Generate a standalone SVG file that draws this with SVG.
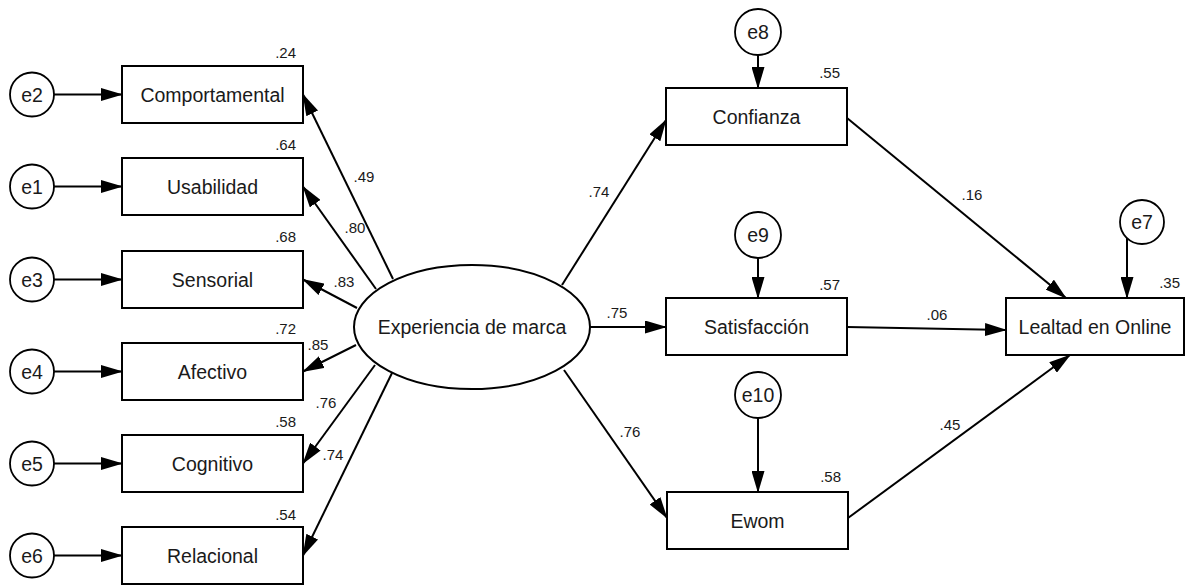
<svg xmlns="http://www.w3.org/2000/svg" width="1186" height="585" viewBox="0 0 1186 585">
<defs>
<marker id="arr" viewBox="0 0 22 13" refX="21" refY="6.5" markerWidth="22" markerHeight="13" orient="auto" markerUnits="userSpaceOnUse">
<path d="M0,0 L22,6.5 L0,13 z" fill="#000"/>
</marker>
<style>
.box{fill:#fff;stroke:#000;stroke-width:2}
.err{fill:#fff;stroke:#000;stroke-width:1.8}
.lat{fill:#fff;stroke:#000;stroke-width:2}
.lbl{font-family:"Liberation Sans",Arial,sans-serif;font-size:19.5px;fill:#1a1a1a;text-anchor:middle}
.num{font-family:"Liberation Sans",Arial,sans-serif;font-size:15px;fill:#1a1a1a;text-anchor:middle}
.r2{font-family:"Liberation Sans",Arial,sans-serif;font-size:15px;fill:#1a1a1a;text-anchor:end}
.con line{stroke:#000;stroke-width:2;marker-end:url(#arr)}
</style>
</defs>
<rect width="1186" height="585" fill="#fff"/>

<g id="connectors" class="con">
<line x1="54" y1="94.5" x2="122" y2="94.5"/>
<line x1="54" y1="186.5" x2="122" y2="186.5"/>
<line x1="54" y1="279.5" x2="122" y2="279.5"/>
<line x1="54" y1="371.5" x2="122" y2="371.5"/>
<line x1="54" y1="463.5" x2="122" y2="463.5"/>
<line x1="54" y1="555.5" x2="122" y2="555.5"/>
<line x1="393" y1="279" x2="303" y2="94.5"/>
<line x1="376" y1="289" x2="303" y2="186.5"/>
<line x1="357" y1="308" x2="303" y2="279.5"/>
<line x1="356" y1="345" x2="303" y2="371.5"/>
<line x1="375" y1="365" x2="303" y2="463.5"/>
<line x1="392" y1="373" x2="303" y2="555.5"/>
<line x1="562" y1="285" x2="666" y2="120"/>
<line x1="590" y1="327" x2="666" y2="327"/>
<line x1="564" y1="370" x2="667" y2="518"/>
<line x1="847" y1="118" x2="1066" y2="298"/>
<line x1="847" y1="327" x2="1006" y2="330"/>
<line x1="848" y1="518" x2="1070" y2="355"/>
<line x1="758" y1="55" x2="758" y2="88"/>
<line x1="758" y1="258" x2="758" y2="298"/>
<line x1="758" y1="418" x2="758" y2="492"/>
<line x1="1127" y1="238" x2="1127" y2="298"/>
</g>

<g id="latent">
<ellipse class="lat" cx="472" cy="327" rx="118" ry="62"/>
<text class="lbl" x="472" y="334">Experiencia de marca</text>
</g>

<g id="comportamental">
<rect class="box" x="122" y="66" width="181" height="57"/>
<text class="lbl" x="212.5" y="101.5">Comportamental</text>
<text class="r2" x="296" y="58">.24</text>
</g>
<g id="usabilidad">
<rect class="box" x="122" y="158" width="181" height="57"/>
<text class="lbl" x="212.5" y="193.5">Usabilidad</text>
<text class="r2" x="296" y="150">.64</text>
</g>
<g id="sensorial">
<rect class="box" x="122" y="251" width="181" height="57"/>
<text class="lbl" x="212.5" y="286.5">Sensorial</text>
<text class="r2" x="296" y="242">.68</text>
</g>
<g id="afectivo">
<rect class="box" x="122" y="343" width="181" height="57"/>
<text class="lbl" x="212.5" y="378.5">Afectivo</text>
<text class="r2" x="296" y="334">.72</text>
</g>
<g id="cognitivo">
<rect class="box" x="122" y="435" width="181" height="57"/>
<text class="lbl" x="212.5" y="470.5">Cognitivo</text>
<text class="r2" x="296" y="427">.58</text>
</g>
<g id="relacional">
<rect class="box" x="122" y="527" width="181" height="57"/>
<text class="lbl" x="212.5" y="562.5">Relacional</text>
<text class="r2" x="296" y="520">.54</text>
</g>

<g id="e2"><circle class="err" cx="32" cy="94.5" r="22"/><text class="lbl" x="32" y="101.5">e2</text></g>
<g id="e1"><circle class="err" cx="32" cy="186.5" r="22"/><text class="lbl" x="32" y="193.5">e1</text></g>
<g id="e3"><circle class="err" cx="32" cy="279.5" r="22"/><text class="lbl" x="32" y="286.5">e3</text></g>
<g id="e4"><circle class="err" cx="32" cy="371.5" r="22"/><text class="lbl" x="32" y="378.5">e4</text></g>
<g id="e5"><circle class="err" cx="32" cy="463.5" r="22"/><text class="lbl" x="32" y="470.5">e5</text></g>
<g id="e6"><circle class="err" cx="32" cy="555.5" r="22"/><text class="lbl" x="32" y="562.5">e6</text></g>

<g id="confianza">
<rect class="box" x="666" y="88" width="181" height="57"/>
<text class="lbl" x="756.5" y="123.5">Confianza</text>
<text class="r2" x="840" y="78">.55</text>
</g>
<g id="satisfaccion">
<rect class="box" x="666" y="298" width="181" height="57"/>
<text class="lbl" x="756.5" y="333.5">Satisfacción</text>
<text class="r2" x="840" y="290">.57</text>
</g>
<g id="ewom">
<rect class="box" x="667" y="492" width="181" height="57"/>
<text class="lbl" x="757.5" y="527.5">Ewom</text>
<text class="r2" x="841" y="482">.58</text>
</g>
<g id="lealtad">
<rect class="box" x="1006" y="298" width="178" height="57"/>
<text class="lbl" x="1095" y="333.5">Lealtad en Online</text>
<text class="r2" x="1180" y="288">.35</text>
</g>

<g id="e8"><circle class="err" cx="758" cy="32" r="23"/><text class="lbl" x="758" y="39">e8</text></g>
<g id="e9"><circle class="err" cx="758" cy="235" r="23"/><text class="lbl" x="758" y="242">e9</text></g>
<g id="e10"><circle class="err" cx="758" cy="395" r="23"/><text class="lbl" x="758" y="402">e10</text></g>
<g id="e7"><circle class="err" cx="1142" cy="222" r="22"/><text class="lbl" x="1142" y="229">e7</text></g>

<g id="path-labels">
<text class="num" x="364" y="182">.49</text>
<text class="num" x="355" y="233">.80</text>
<text class="num" x="344" y="287">.83</text>
<text class="num" x="318" y="350">.85</text>
<text class="num" x="326" y="408">.76</text>
<text class="num" x="333" y="460">.74</text>
<text class="num" x="599" y="197">.74</text>
<text class="num" x="617" y="318">.75</text>
<text class="num" x="630" y="437">.76</text>
<text class="num" x="972" y="200">.16</text>
<text class="num" x="937" y="320">.06</text>
<text class="num" x="950" y="430">.45</text>
</g>
</svg>
